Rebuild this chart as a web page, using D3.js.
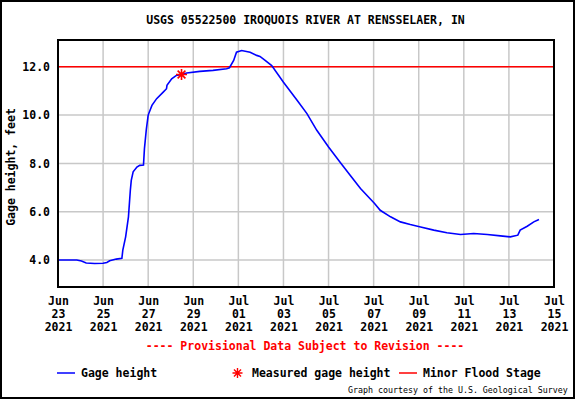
<!DOCTYPE html>
<html>
<head>
<meta charset="utf-8">
<script src="https://cdn.jsdelivr.net/npm/d3@7"></script>
<style>
  html, body { margin: 0; padding: 0; background: #fff; }
  svg { display: block; }
  text { font-family: "DejaVu Sans Mono", "Liberation Mono", monospace; }
</style>
</head>
<body>
<script>
// ---- Data ----
const gageTimes = [
  "2021-06-23T00:00","2021-06-23T20:00","2021-06-24T01:00","2021-06-24T06:00","2021-06-24T15:00",
  "2021-06-25T00:00","2021-06-25T04:00","2021-06-25T07:00","2021-06-25T14:00","2021-06-25T20:00",
  "2021-06-25T21:00","2021-06-26T00:00","2021-06-26T03:00","2021-06-26T05:00","2021-06-26T06:00",
  "2021-06-26T08:00","2021-06-26T12:00","2021-06-26T15:00","2021-06-26T19:00","2021-06-26T20:00",
  "2021-06-26T22:00","2021-06-27T00:00","2021-06-27T04:00","2021-06-27T09:00","2021-06-27T16:00",
  "2021-06-27T19:30","2021-06-27T20:00","2021-06-28T01:00","2021-06-28T06:00","2021-06-28T11:30",
  "2021-06-28T17:00","2021-06-29T07:00","2021-06-29T21:00","2021-06-30T11:30","2021-06-30T14:30",
  "2021-06-30T19:00","2021-06-30T22:00","2021-07-01T03:30","2021-07-01T12:30","2021-07-01T19:30",
  "2021-07-01T23:00","2021-07-02T04:30","2021-07-02T11:30","2021-07-03T00:00","2021-07-03T14:30",
  "2021-07-04T01:00","2021-07-04T11:30","2021-07-05T00:00","2021-07-05T12:30","2021-07-05T23:00",
  "2021-07-06T10:00","2021-07-07T01:00","2021-07-07T07:00","2021-07-07T18:00","2021-07-08T04:30",
  "2021-07-08T15:00","2021-07-09T02:00","2021-07-09T16:00","2021-07-10T06:00","2021-07-10T20:30",
  "2021-07-11T10:30","2021-07-12T01:00","2021-07-12T15:00","2021-07-13T01:30","2021-07-13T09:30",
  "2021-07-13T12:00","2021-07-13T19:30","2021-07-14T02:30","2021-07-14T08:00"
];
const gageHeights = [
  4.00, 4.00, 3.96, 3.88, 3.86,
  3.87, 3.90, 3.97, 4.04, 4.07,
  4.41, 4.96, 5.79, 6.89, 7.30,
  7.65, 7.85, 7.92, 7.93, 8.60,
  9.40, 10.00, 10.40, 10.68, 10.95,
  11.09, 11.23, 11.50, 11.64, 11.68,
  11.74, 11.81, 11.85, 11.92, 11.96,
  12.26, 12.60, 12.67, 12.60, 12.47,
  12.43, 12.26, 12.05, 11.36, 10.61,
  10.06, 9.37, 8.68, 8.04, 7.51,
  6.96, 6.34, 6.06, 5.79, 5.58,
  5.47, 5.37, 5.24, 5.13, 5.06,
  5.10, 5.06, 5.00, 4.96, 5.03,
  5.24, 5.40, 5.58, 5.68
];
const measuredTimes = ["2021-06-28T11:30"];
const measuredHeights = [11.68];
const floodStage = 12.0;

const xTickDates = ["2021-06-23","2021-06-25","2021-06-27","2021-06-29","2021-07-01","2021-07-03",
  "2021-07-05","2021-07-07","2021-07-09","2021-07-11","2021-07-13","2021-07-15"];
const yTickValues = [4, 6, 8, 10, 12];
const xDomain = ["2021-06-23T00:00", "2021-07-15T00:00"];
const yDomain = [2.885, 13.107];

const titleText = "USGS 05522500 IROQUOIS RIVER AT RENSSELAER, IN";
const yLabelText = "Gage height, feet";
const provisionalText = "---- Provisional Data Subject to Revision ----";
const legendLabels = ["Gage height", "Measured gage height", "Minor Flood Stage"];
const courtesyText = "Graph courtesy of the U.S. Geological Survey";

// ---- Chart ----
const W = 576, H = 400;
const m = { left: 58, right: 554, top: 40, bottom: 287 };
const parseT = d3.timeParse("%Y-%m-%dT%H:%M");
const parseD = d3.timeParse("%Y-%m-%d");
const fmtMon = d3.timeFormat("%b"), fmtDay = d3.timeFormat("%d"), fmtYr = d3.timeFormat("%Y");

const svg = d3.select("body").append("svg").attr("width", W).attr("height", H);

const x = d3.scaleTime().domain(xDomain.map(parseT)).range([m.left, m.right]);
const y = d3.scaleLinear().domain(yDomain).range([m.bottom, m.top]);

// 8-armed asterisk path
function starPath(r) {
  const p = d3.path();
  for (let k = 0; k < 4; k++) {
    const a = k * Math.PI / 4;
    p.moveTo(-r * Math.cos(a), -r * Math.sin(a));
    p.lineTo(r * Math.cos(a), r * Math.sin(a));
  }
  return p.toString();
}

// outer frame
svg.append("rect").attr("x", 1).attr("y", 1).attr("width", W - 3).attr("height", H - 3)
  .attr("fill", "#fff").attr("stroke", "#000").attr("stroke-width", 2);

// title
svg.append("text").attr("x", 305.5).attr("y", 24).attr("text-anchor", "middle")
  .attr("font-size", "11.5px").attr("font-weight", "bold").text(titleText);

// grid
const grid = svg.append("g");
grid.selectAll("line.v").data(xTickDates.map(parseD)).join("line")
  .attr("x1", d => x(d)).attr("x2", d => x(d)).attr("y1", m.top).attr("y2", m.bottom)
  .attr("stroke", "#c8c8c8").attr("stroke-width", 1.5);
grid.selectAll("line.h").data(yTickValues).join("line")
  .attr("x1", m.left).attr("x2", m.right).attr("y1", d => y(d)).attr("y2", d => y(d))
  .attr("stroke", "#c8c8c8").attr("stroke-width", 1.5);

// flood stage line
svg.append("line").attr("x1", m.left).attr("x2", m.right)
  .attr("y1", y(floodStage)).attr("y2", y(floodStage))
  .attr("stroke", "#ff0000").attr("stroke-width", 1.5);

// gage line
const series = gageTimes.map((t, i) => ({ t: parseT(t), v: gageHeights[i] }));
svg.append("path").datum(series)
  .attr("d", d3.line().x(d => x(d.t)).y(d => y(d.v)))
  .attr("fill", "none").attr("stroke", "#0000ff").attr("stroke-width", 1.6);

// measured points
svg.selectAll("path.meas").data(measuredTimes.map((t, i) => ({ t: parseT(t), v: measuredHeights[i] })))
  .join("path").attr("class", "meas")
  .attr("transform", d => `translate(${x(d.t)},${y(d.v)})`)
  .attr("d", starPath(5.5)).attr("fill", "none").attr("stroke", "#ff0000").attr("stroke-width", 1.6);

// plot frame
svg.append("rect").attr("x", m.left).attr("y", m.top)
  .attr("width", m.right - m.left).attr("height", m.bottom - m.top)
  .attr("fill", "none").attr("stroke", "#000").attr("stroke-width", 2);

// y axis
const yAxis = svg.append("g").attr("transform", `translate(${m.left},0)`)
  .call(d3.axisLeft(y).tickValues(yTickValues).tickFormat(d3.format(".1f")).tickSize(0).tickPadding(8));
yAxis.select(".domain").remove();
yAxis.selectAll("text").attr("font-size", "11.5px").attr("font-weight", "bold")
  .attr("font-family", "DejaVu Sans Mono, monospace").attr("fill", "#000");

// x axis
const xAxis = svg.append("g").attr("transform", `translate(0,${m.bottom})`)
  .call(d3.axisBottom(x).tickValues(xTickDates.map(parseD)).tickSize(0).tickFormat(""));
xAxis.select(".domain").remove();
xAxis.selectAll(".tick text").each(function (d) {
  const t = d3.select(this).attr("y", 0).attr("dy", null)
    .attr("font-size", "11.5px").attr("font-weight", "bold")
    .attr("font-family", "DejaVu Sans Mono, monospace").attr("fill", "#000");
  [fmtMon(d), fmtDay(d), fmtYr(d)].forEach((s, i) => {
    t.append("tspan").attr("x", 0).attr("y", 18 + i * 13).text(s);
  });
});

// y label
svg.append("text").attr("transform", "translate(15,167) rotate(-90)")
  .attr("text-anchor", "middle").attr("font-size", "11.5px").attr("font-weight", "bold")
  .text(yLabelText);

// provisional
svg.append("text").attr("x", 305).attr("y", 350).attr("text-anchor", "middle")
  .attr("font-size", "11.5px").attr("font-weight", "bold").attr("fill", "#ff0000")
  .text(provisionalText);

// legend
const ly = 373;
svg.append("line").attr("x1", 57).attr("x2", 75).attr("y1", ly).attr("y2", ly)
  .attr("stroke", "#0000ff").attr("stroke-width", 1.5);
svg.append("text").attr("x", 81).attr("y", ly + 4).attr("font-size", "11.5px").attr("font-weight", "bold")
  .text(legendLabels[0]);
svg.append("path").attr("transform", `translate(237.5,${ly})`)
  .attr("d", starPath(5)).attr("fill", "none").attr("stroke", "#ff0000").attr("stroke-width", 1.4);
svg.append("text").attr("x", 252).attr("y", ly + 4).attr("font-size", "11.5px").attr("font-weight", "bold")
  .text(legendLabels[1]);
svg.append("line").attr("x1", 399).attr("x2", 417).attr("y1", ly).attr("y2", ly)
  .attr("stroke", "#ff0000").attr("stroke-width", 1.5);
svg.append("text").attr("x", 423).attr("y", ly + 4).attr("font-size", "11.5px").attr("font-weight", "bold")
  .text(legendLabels[2]);

// courtesy
svg.append("text").attr("x", 348).attr("y", 393).attr("font-size", "8.3px")
  .text(courtesyText);
</script>
</body>
</html>
